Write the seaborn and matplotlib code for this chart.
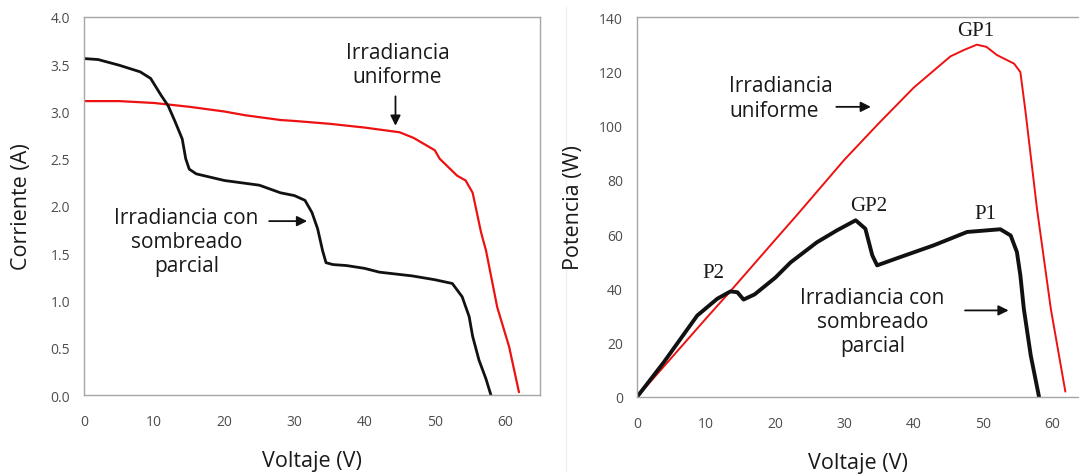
import numpy as np
import pandas as pd
import matplotlib
matplotlib.use("Agg")
import matplotlib.pyplot as plt
from matplotlib.lines import Line2D
import seaborn as sns

# I-V curves (left panel)
iv_uniform_v = [0, 5, 10, 15, 20, 23, 28, 30, 35, 40, 45, 47, 50, 50.7, 53.2, 54.4,
                55.4, 56.6, 57.3, 58.9, 60.6, 62.0]
iv_uniform_i = [3.11, 3.11, 3.09, 3.05, 3.0, 2.96, 2.91, 2.90, 2.87, 2.83, 2.78, 2.72,
                2.59, 2.50, 2.32, 2.27, 2.14, 1.72, 1.53, 0.93, 0.51, 0.03]

iv_shaded_v = [0, 2, 5, 8, 9.5, 11, 12, 13, 14, 14.5, 15, 16, 20, 22, 25, 28, 30, 31.5,
               32.5, 33.3, 34, 34.5, 35.5, 37.4, 40, 42.1, 46.8, 50, 52.5, 53.9, 54.9,
               55.4, 56.3, 57.3, 58.0]
iv_shaded_i = [3.56, 3.55, 3.49, 3.42, 3.35, 3.17, 3.06, 2.89, 2.71, 2.50, 2.39, 2.34,
               2.27, 2.25, 2.22, 2.14, 2.11, 2.06, 1.93, 1.76, 1.53, 1.40, 1.38, 1.37,
               1.34, 1.30, 1.26, 1.22, 1.18, 1.04, 0.83, 0.62, 0.37, 0.17, 0.0]

# P-V curves (right panel)
pv_uniform_v = [0, 10, 13.5, 20, 23.1, 30, 35, 40, 42.3, 45.3, 47.2, 49.1, 50.5, 52,
                54.5, 55.4, 56.1, 57.8, 59.8, 61.9]
pv_uniform_p = [0, 29, 39, 58, 67, 87.5, 101, 114, 119, 125.5, 127.8, 129.8, 129, 126,
                122.8, 119.7, 106, 69.4, 32.5, 2]

pv_shaded_v = [0, 3.9, 8.7, 11.6, 13.5, 14.5, 15.4, 17, 20, 22.2, 26, 28.9, 31.6, 33.0,
               34.0, 34.7, 38.1, 42.9, 47.7, 52.5, 54.0, 54.9, 55.4, 55.9, 56.9, 58.1]
pv_shaded_p = [0, 12.9, 30.0, 36.2, 38.9, 38.6, 35.9, 37.8, 44, 49.6, 57, 61.4, 65.1, 62,
               52.2, 48.5, 51.6, 55.9, 60.8, 61.8, 59.5, 53.4, 44.8, 32.5, 15.3, 0]

x_ticks = [0, 10, 20, 30, 40, 50, 60]

sns.set_style("white")
plt.rcParams['font.family'] = ['Open Sans', 'DejaVu Sans']

fig = plt.figure(figsize=(10.79, 4.77), dpi=100)
W, H = 1079, 477
ax1 = fig.add_axes([84 / W, 1 - 396 / H, 456 / W, 378 / H])
ax2 = fig.add_axes([637 / W, 1 - 398 / H, 442 / W, 380 / H])

iv_u = pd.DataFrame({'v': iv_uniform_v, 'y': iv_uniform_i})
iv_s = pd.DataFrame({'v': iv_shaded_v, 'y': iv_shaded_i})
pv_u = pd.DataFrame({'v': pv_uniform_v, 'y': pv_uniform_p})
pv_s = pd.DataFrame({'v': pv_shaded_v, 'y': pv_shaded_p})

sns.lineplot(data=iv_u, x='v', y='y', sort=False, estimator=None, color='#ee1111', lw=1.6, ax=ax1)
sns.lineplot(data=iv_s, x='v', y='y', sort=False, estimator=None, color='#111111', lw=2.0, ax=ax1)
sns.lineplot(data=pv_u, x='v', y='y', sort=False, estimator=None, color='#ee1111', lw=1.4, ax=ax2)
sns.lineplot(data=pv_s, x='v', y='y', sort=False, estimator=None, color='#111111', lw=2.8, ax=ax2)

ax1.set_xlim(0, 65)
ax2.set_xlim(0, 442 / 6.92)
ax2.spines['right'].set_visible(False)

grey = '#a6a6a6'
for ax in (ax1, ax2):
    ax.set_xticks(x_ticks)
    for s in ax.spines.values():
        s.set_color(grey)
        s.set_linewidth(1.0)
    ax.tick_params(axis='both', direction='out', length=4, width=1, color=grey,
                   labelcolor='#4d4d4d', labelsize=10, pad=6)
    ax.tick_params(axis='x', pad=10)

ax1.set_ylim(0, 4.0)
ax1.set_yticks(np.arange(0, 4.01, 0.5))
ax1.yaxis.set_major_formatter(matplotlib.ticker.FormatStrFormatter('%.1f'))
ax2.set_ylim(0, 140)
ax2.set_yticks(range(0, 141, 20))

lab = dict(fontsize=15.5, color='#1a1a1a')
ax1.set_xlabel('Voltaje (V)', labelpad=15, **lab)
ax1.set_ylabel('Corriente (A)', labelpad=13, **lab)
ax2.set_xlabel('Voltaje (V)', labelpad=15, **lab)
ax2.set_ylabel('Potencia (W)', labelpad=11, **lab)

txt = dict(fontsize=15, color='#1a1a1a', linespacing=1.2)
arrow = dict(arrowstyle='-|>', color='#111111', lw=1.3, mutation_scale=15)

ax1.text(44.7, 3.74, 'Irradiancia\nuniforme', ha='center', va='top', **txt)
ax1.annotate('', xy=(44.4, 2.82), xytext=(44.4, 3.19), arrowprops=arrow)
ax1.text(14.6, 1.99, 'Irradiancia con\nsombreado\nparcial', ha='center', va='top', **txt)
ax1.annotate('', xy=(32.2, 1.84), xytext=(26.0, 1.84), arrowprops=arrow)

ax2.text(13.3, 118.5, 'Irradiancia\nuniforme', ha='left', va='top', **txt)
ax2.annotate('', xy=(34.2, 106.9), xytext=(28.4, 106.9), arrowprops=arrow)
ax2.text(34.0, 40.7, 'Irradiancia con\nsombreado\nparcial', ha='center', va='top', **txt)
ax2.annotate('', xy=(54.1, 31.9), xytext=(47.0, 31.9), arrowprops=arrow)

serif = dict(family='Liberation Serif', fontsize=15, color='#1a1a1a', ha='center', va='center')
ax2.text(48.9, 135, 'GP1', **serif)
ax2.text(33.5, 70.6, 'GP2', **serif)
ax2.text(50.4, 67.5, 'P1', **serif)
ax2.text(11.0, 46, 'P2', **serif)

# faint divider between the two panels
fig.add_artist(Line2D([566 / W, 566 / W], [1 - 472 / H, 1 - 8 / H], color='#f0f0f0',
                      lw=1, zorder=-1))

fig.savefig('out.png', dpi=100)
